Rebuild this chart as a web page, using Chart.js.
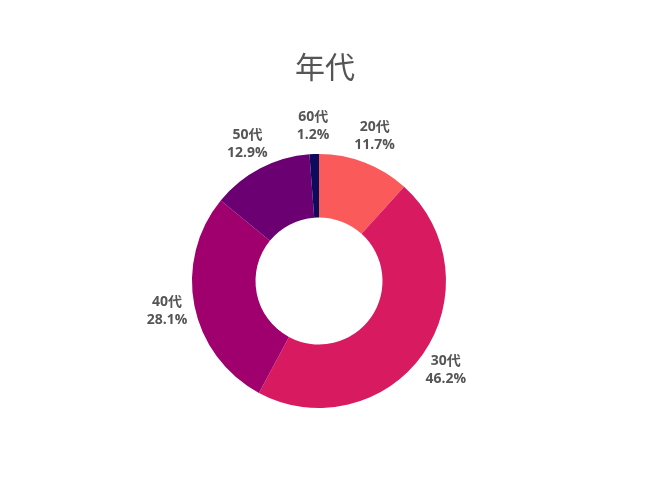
<!DOCTYPE html>
<html>
<head>
<meta charset="utf-8">
<script src="https://cdn.jsdelivr.net/npm/chart.js@4"></script>
<style>
  html, body { margin: 0; padding: 0; background: #fff; }
  #wrap { width: 650px; height: 488px; }
</style>
</head>
<body>
<div id="wrap"><canvas id="myChart" width="650" height="488"></canvas></div>
<script>
const titleText = '年代'
const categories = ['20代', '30代', '40代', '50代', '60代']
const shares = [11.7, 46.2, 28.1, 12.9, 1.2]
const colors = ['#fa5a5a', '#d81b60', '#a0006e', '#6a0072', '#0d0b5c']

const FONT = "'Open Sans', 'Noto Sans CJK JP', sans-serif"

// title and outside labels, drawn after the arcs
const labelPlugin = {
  id: 'outsideLabels',
  afterDraw(chart) {
    const ctx = chart.ctx
    ctx.save()
    ctx.fillStyle = '#555'
    ctx.textAlign = 'center'
    ctx.textBaseline = 'middle'
    ctx.font = '30px ' + FONT
    ctx.fillText(titleText, chart.width / 2, 69)

    ctx.font = 'bold 14px ' + FONT
    const meta = chart.getDatasetMeta(0)
    meta.data.forEach((arc, i) => {
      const { x, y, startAngle, endAngle, outerRadius } = arc.getProps(
        ['x', 'y', 'startAngle', 'endAngle', 'outerRadius'], true)
      const mid = (startAngle + endAngle) / 2
      const r = outerRadius + 28
      const lx = x + Math.cos(mid) * r
      const ly = y + Math.sin(mid) * r
      ctx.fillText(categories[i], lx, ly - 9)
      ctx.fillText(shares[i].toFixed(1) + '%', lx, ly + 9)
    })
    ctx.restore()
  },
}

const ctx = document.getElementById('myChart').getContext('2d')
new Chart(ctx, {
  type: 'doughnut',
  data: {
    labels: categories,
    datasets: [{
      data: shares,
      backgroundColor: colors,
      borderWidth: 0,
    }],
  },
  options: {
    responsive: false,
    animation: false,
    cutout: '50%',
    layout: { padding: { top: 154, bottom: 80, left: 0, right: 12 } },
    plugins: {
      legend: { display: false },
      tooltip: { enabled: false },
      title: { display: false },
    },
  },
  plugins: [labelPlugin],
})
</script>
</body>
</html>
